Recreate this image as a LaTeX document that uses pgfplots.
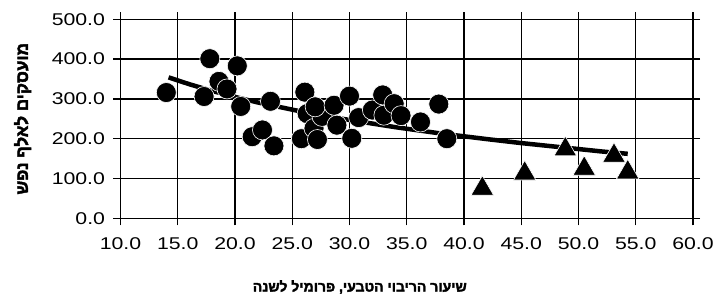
\documentclass[border=0pt]{standalone}
\usepackage{fontspec}
\usepackage{pgfplots}
\pgfplotsset{compat=1.18}
\setmainfont{Liberation Sans}
\newfontfamily\tickfont[FakeStretch=1.25]{Liberation Sans}
\newfontfamily\hebbold[Script=Hebrew, FakeBold=2.5]{Liberation Sans Bold}
\TeXXeTstate=1
\begin{document}
\begin{tikzpicture}
\begin{axis}[
  scale only axis, width=572.5bp, height=199bp,
  xmin=10, xmax=60, ymin=0, ymax=500,
  xtick={10,15,...,60}, ytick={0,100,...,500},
  grid=major, major grid style={black, line width=1.4bp},
  axis line style={black, line width=1.4bp},
  tick style={black, line width=1.4bp},
  tick align=outside, major tick length=7bp,
  /pgf/number format/assume math mode=true,
  ticklabel style={font=\tickfont\fontsize{17bp}{19bp}\selectfont,
    /pgf/number format/fixed, /pgf/number format/fixed zerofill,
    /pgf/number format/precision=1},
  yticklabel style={xshift=-5bp},
  xticklabel style={yshift=-9bp},
  xlabel={\hebbold\fontsize{14bp}{16bp}\selectfont \beginR שיעור הריבוי הטבעי, פרומיל לשנה\endR},
  ylabel={\hebbold\fontsize{17bp}{19bp}\selectfont \beginR מועסקים לאלף נפש\endR},
  xlabel style={at={(axis description cs:0.418,-0.345)}, anchor=center},
  ylabel style={at={(axis description cs:-0.171,0.5)}, anchor=center, rotate=0},
  clip=false,
]
\addplot[only marks, mark=*, mark size=10bp, mark options={fill=black, draw=white, line width=0.6bp}] coordinates {
(14.0,316) (17.3,306) (17.8,401) (18.6,344) (19.3,325) (20.2,383) (20.5,281)
(21.5,205) (22.4,222) (23.1,294) (23.4,182) (25.8,200) (26.1,317) (26.3,263)
(26.9,226) (27.2,198) (27.6,256) (27.0,280) (28.65,284) (28.9,234) (30.0,307)
(30.2,201) (30.8,253) (32.0,272) (32.9,310) (33.0,259) (33.9,288) (34.5,258)
(36.2,242) (37.8,287) (38.5,200)
};
\addplot[only marks, mark=triangle*, mark size=13bp, mark options={fill=black, draw=white, line width=0.6bp, yshift=-3bp}] coordinates {
(41.6,82) (45.3,120) (48.85,181) (50.5,132) (53.1,165) (54.3,123)
};
\addplot[black, line width=4.5bp, no marks] coordinates {
(14.2,354) (16,337) (18,320) (20,305) (22,291) (24,279) (26,267) (28,257)
(30,247) (32,238) (34,229) (36,221) (38,213) (40,206) (42,199) (45,189)
(48,180) (50,174) (52,168) (54.3,162)
};
\end{axis}
\pgfresetboundingbox
\useasboundingbox (current axis.south west) ++(-120.5bp,-81.7bp) rectangle ++(715bp,300bp);
\end{tikzpicture}
\end{document}
